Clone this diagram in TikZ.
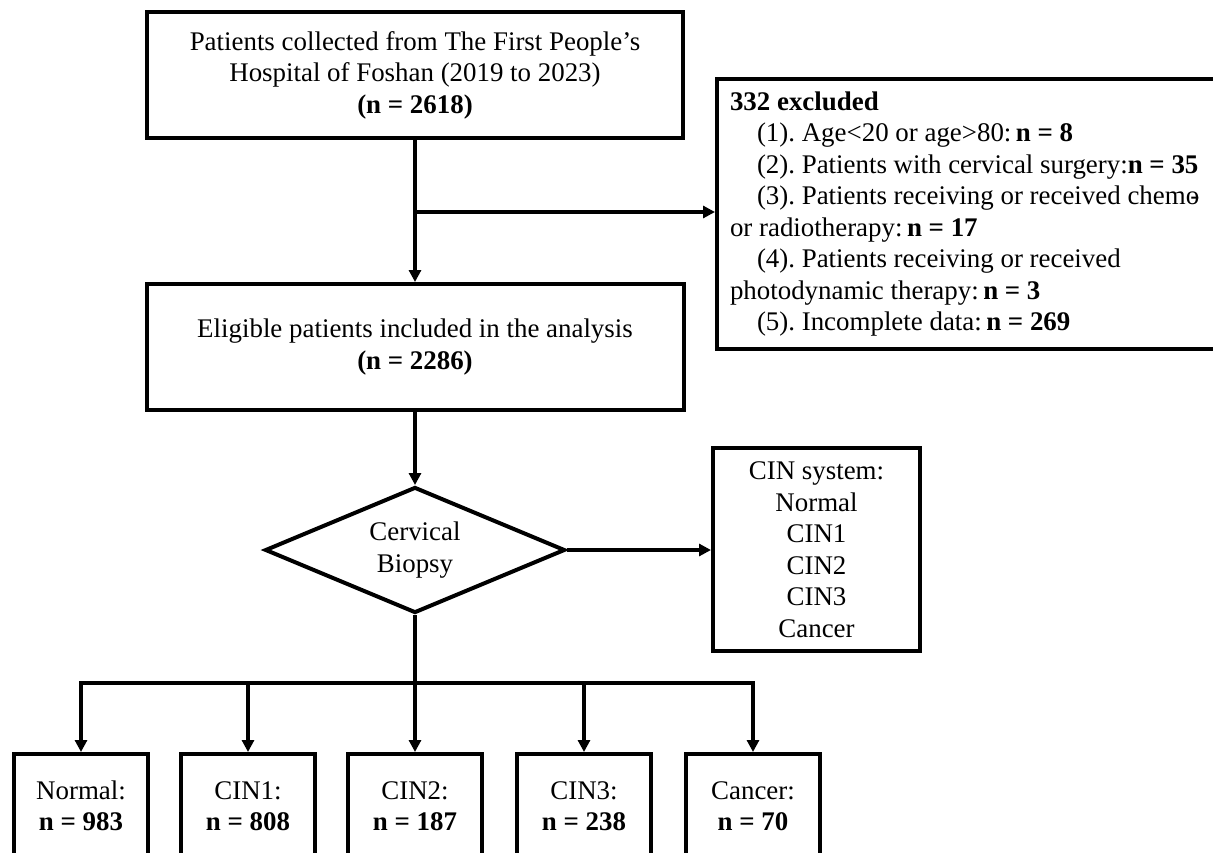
\documentclass[tikz,border=0pt]{standalone}
\usepackage{fontspec}
\setmainfont{Liberation Serif}
\usetikzlibrary{shapes.geometric,arrows.meta}
\begin{document}
\begin{tikzpicture}[x=1pt,y=-1pt,
  every node/.style={font=\fontsize{26.9}{31.5}\selectfont\frenchspacing},
  box/.style={draw, line width=4pt, align=center, inner sep=0pt},
  arr/.style={line width=3.6pt, -{Triangle[length=12pt,width=12pt]}},
  ln/.style={line width=3.6pt}]
\useasboundingbox (0,0) rectangle (1213,852);
\clip (0,0) rectangle (1213,852);
% main column
\node[box, minimum width=536pt, minimum height=126pt] (top) at (415,75)
  {Patients collected from The First People's\\Hospital of Foshan (2019 to 2023)\\\textbf{(n = 2618)}};
\node[box, minimum width=537pt, minimum height=126pt] (elig) at (415,347)
  {Eligible patients included in the analysis\\\textbf{(n = 2286)}};
\node[box, diamond, shape aspect=2.38, minimum width=300pt, minimum height=126pt] (dia) at (415,550)
  {Cervical\\Biopsy};
% side boxes
\node[box, anchor=north west, text width=600pt, inner xsep=13pt, minimum height=270pt, align=left] (excl) at (715,77)
  {\spaceskip=0pt \xspaceskip=0pt \frenchspacing
   \textbf{332 excluded}\\
   \hspace*{27pt}(1). Age<20 or age>80:\,\textbf{n = 8}\\
   \hspace*{27pt}(2). Patients with cervical surgery:\textbf{n = 35}\\
   \hspace*{27pt}(3). Patients receiving or received chemo\llap{-}\\
   or radiotherapy:\,\textbf{n = 17}\\
   \hspace*{27pt}(4). Patients receiving or received\\
   photodynamic therapy:\,\textbf{n = 3}\\
   \hspace*{27pt}(5). Incomplete data:\,\textbf{n = 269}};
\node[box, minimum width=207pt, minimum height=203pt] (cin) at (816.5,549.5)
  {CIN system:\\Normal\\CIN1\\CIN2\\CIN3\\Cancer};
% bottom boxes
\tikzset{leaf/.style={box, anchor=north, minimum width=134pt, minimum height=104pt}}
\node[leaf] (b1) at (81,752) {Normal:\\\textbf{n = 983}};
\node[leaf] (b2) at (248,752) {CIN1:\\\textbf{n = 808}};
\node[leaf] (b3) at (415,752) {CIN2:\\\textbf{n = 187}};
\node[leaf] (b4) at (584,752) {CIN3:\\\textbf{n = 238}};
\node[leaf] (b5) at (753,752) {Cancer:\\\textbf{n = 70}};
% connectors
\coordinate (split) at (415,212);
\coordinate (bus) at (415,683);
\draw[arr] (top.south) -- (elig.north);
\draw[arr] (split) -- (split -| excl.west);
\draw[arr] (elig.south) -- (dia.north);
\draw[arr] (dia.east) -- (dia.east -| cin.west);
\draw[arr] (dia.south) -- (b3.north);
\draw[arr] (bus) -| (b1.north);
\draw[arr] (bus) -| (b2.north);
\draw[arr] (bus) -| (b4.north);
\draw[arr] (bus) -| (b5.north);
\end{tikzpicture}
\end{document}
